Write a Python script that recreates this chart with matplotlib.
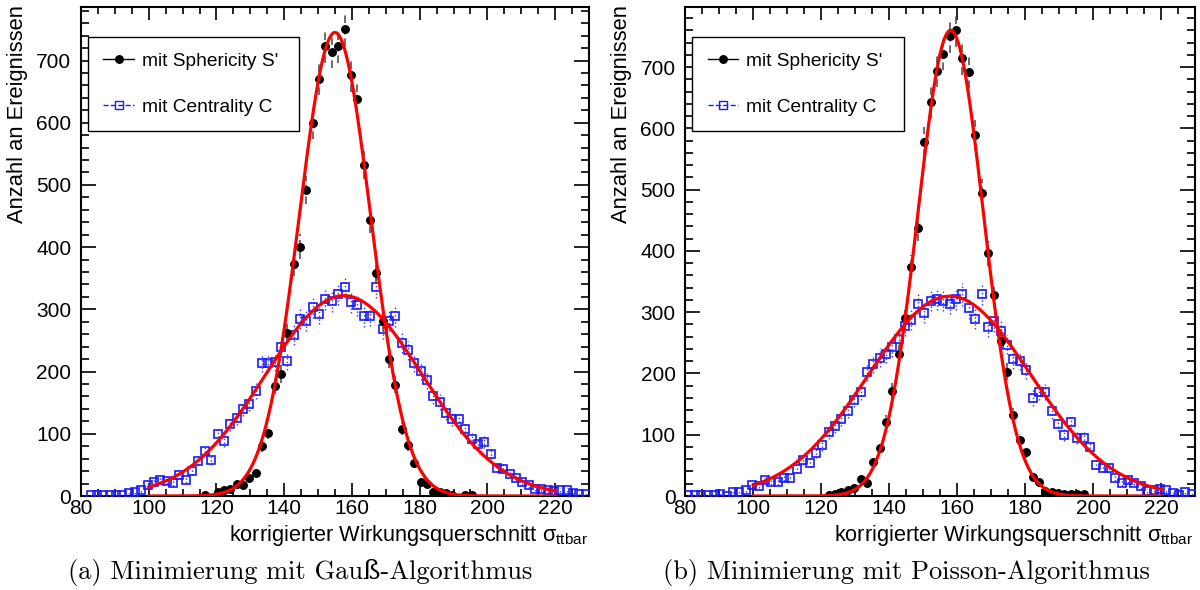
import numpy as np
import matplotlib
matplotlib.use("Agg")
import matplotlib.pyplot as plt
from matplotlib.ticker import MultipleLocator
from matplotlib.lines import Line2D

plt.rcParams['font.family'] = ['Liberation Sans', 'DejaVu Sans']
plt.rcParams['mathtext.fontset'] = 'custom'
plt.rcParams['mathtext.rm'] = 'Liberation Sans'
plt.rcParams['mathtext.it'] = 'Liberation Sans:italic'

nan = np.nan

# histogram binning (80 bins from 80 to 230)
bin_lo = 80.0
bin_hi = 230.0
n_bins = 80

# (a) Gauss minimisation
gauss_sphericity = [nan] * 19 + [1, nan,
    7, 9, 11, 19, 18, 29, 37, 80, 101, 177, 196, 262, 373, 401, 492, 599, 671, 723, 714,
    723, 750, 676, 638, 532, 444, 359, 282, 221, 179, 108, 82, 53, 23, 20, 7, 6, 5, 2,
    nan, 2, 2] + [nan] * 18
gauss_centrality = [nan, 2, 2, 2, 2, 2, 1, 5, 6, 9, 17, 23, 26, 24, 21, 33, 26, 40, 57, 73,
    58, 99, 88, 115, 126, 140, 148, 169, 214, 214, 215, 239, 217, 258, 285, 282, 304, 293,
    317, 314, 325, 336, 312, 307, 289, 290, 336, 268, 282, 289, 246, 234, 214, 201, 186,
    160, 151, 134, 124, 124, 107, 91, 84, 87, 67, 45, 44, 36, 29, 23, 17, 12, 11, 9, 8,
    10, 10, 5, 4, 3]

# (b) Poisson minimisation
poisson_sphericity = [nan] * 22 + [1, 4, 7, 9, 13, 28, 22, 56, 79, 121, 171, 231, 290, 374,
    437, 578, 643, 694, 722, 750, 761, 714, 692, 589, 495, 396, 328, 253, 203, 132, 92, 71,
    31, 23, 8, 6, 5, 4, 4, 3, 3] + [nan] * 17
poisson_centrality = [2, 2, 2, 2, 2, 3, 0, 7, 7, 9, 18, 17, 26, 23, 23, 30, 29, 44, 58, 54,
    70, 83, 104, 114, 125, 139, 157, 170, 202, 216, 226, 232, 243, 257, 277, 288, 314, 299,
    319, 321, 319, 314, 322, 329, 306, 289, 330, 276, 285, 269, 247, 223, 220, 205, 160,
    169, 170, 138, 117, 100, 121, 95, 95, 80, 51, 46, 45, 30, 21, 26, 22, 16, 8, 9, 12,
    9, 5, 1, 6, 4]

# Gaussian fit parameters (amplitude, mean, sigma) and fit range
fit_gauss_sph = [745, 155.0, 10.5]
fit_gauss_cen = [322, 157.6, 23.1]
fit_poisson_sph = [760, 158.1, 9.65]
fit_poisson_cen = [326, 157.8, 23.9]
fit_range = [100, 220]

labels = ["mit Sphericity S'", "mit Centrality C"]
ylabel = "Anzahl an Ereignissen"
xlabel = "korrigierter Wirkungsquerschnitt σ$_{\\mathrm{ttbar}}$"
captions = ["(a) Minimierung mit Gauß-Algorithmus", "(b) Minimierung mit Poisson-Algorithmus"]

edges = np.linspace(bin_lo, bin_hi, n_bins + 1)
centers = 0.5 * (edges[:-1] + edges[1:])
xf = np.linspace(fit_range[0], fit_range[1], 600)

fig = plt.figure(figsize=(12, 5.9), dpi=100)
W, H = 1200.0, 590.0
ax1 = fig.add_axes([81 / W, 94 / H, 508 / W, 489 / H])
ax2 = fig.add_axes([685.3 / W, 94 / H, 509.7 / W, 489 / H])


def gauss(x, p):
    return p[0] * np.exp(-0.5 * ((x - p[1]) / p[2]) ** 2)


def draw(ax, sph, cen, fs, fc, ymax):
    sph = np.array(sph, dtype=float)
    cen = np.array(cen, dtype=float)
    eb = ax.errorbar(centers, cen, yerr=np.sqrt(cen), fmt='s', ms=5.4, mfc='none',
                     mec='#1a1aff', mew=1.2, ecolor='#3030ff', elinewidth=1.0, zorder=3)
    eb[2][0].set_linestyle(':')
    eb = ax.errorbar(centers, sph, yerr=np.sqrt(sph), fmt='o', ms=5.4, mfc='black',
                     mec='black', ecolor='#444444', elinewidth=1.1, zorder=4)
    eb[2][0].set_linestyle((0, (5, 2.5)))
    ax.plot(xf, gauss(xf, fs), color='#ff0000', lw=2.3, zorder=5)
    ax.plot(xf, gauss(xf, fc), color='#ff0000', lw=2.3, zorder=5)
    ax.set_xlim(bin_lo, bin_hi)
    ax.set_ylim(0, ymax)
    ax.xaxis.set_major_locator(MultipleLocator(20))
    ax.xaxis.set_minor_locator(MultipleLocator(5))
    ax.yaxis.set_major_locator(MultipleLocator(100))
    ax.yaxis.set_minor_locator(MultipleLocator(20))
    ax.tick_params(which='both', direction='in', top=True, right=True, width=1.2,
                   labelsize=15)
    ax.tick_params(axis='y', which='major', length=11, pad=7)
    ax.tick_params(axis='y', which='minor', length=5.5)
    ax.tick_params(axis='x', which='major', length=9.5, pad=2)
    ax.tick_params(axis='x', which='minor', length=5)
    for s in ax.spines.values():
        s.set_linewidth(1.5)
    handles = [Line2D([], [], color='black', marker='o', ms=5.4, ls='-', lw=1.0),
               Line2D([], [], color='#1a1aff', marker='s', ms=5.4, mfc='none', mew=1.0,
                      ls='--', lw=1.0)]
    leg = ax.legend(handles, labels, loc='upper left',
                    bbox_to_anchor=(0.0138, 0.75, 0.415, 0.189), mode='expand',
                    borderaxespad=0, fontsize=13.8, frameon=True, fancybox=False,
                    edgecolor='black', framealpha=1, handlelength=1.6,
                    handletextpad=0.4, labelspacing=1.5, borderpad=0.8)
    leg.get_frame().set_linewidth(1.0)


draw(ax1, gauss_sphericity, gauss_centrality, fit_gauss_sph, fit_gauss_cen, 786)
draw(ax2, poisson_sphericity, poisson_centrality, fit_poisson_sph, fit_poisson_cen, 798)

for xl, xr in [(18, 588), (622, 1193)]:
    fig.text(xl / W, 1 - 5 / H, ylabel, rotation=90, ha='center', va='top', fontsize=15.8)
    fig.text(xr / W, 1 - 541 / H, xlabel, ha='right', va='baseline', fontsize=15.7)

cap_font = ['cmr10', 'DejaVu Serif']
fig.text(300 / W, 1 - 573 / H, captions[0], ha='center', va='center', fontsize=19,
         family=cap_font)
fig.text(906 / W, 1 - 573 / H, captions[1], ha='center', va='center', fontsize=19,
         family=cap_font)

fig.savefig("out.png", dpi=100)
